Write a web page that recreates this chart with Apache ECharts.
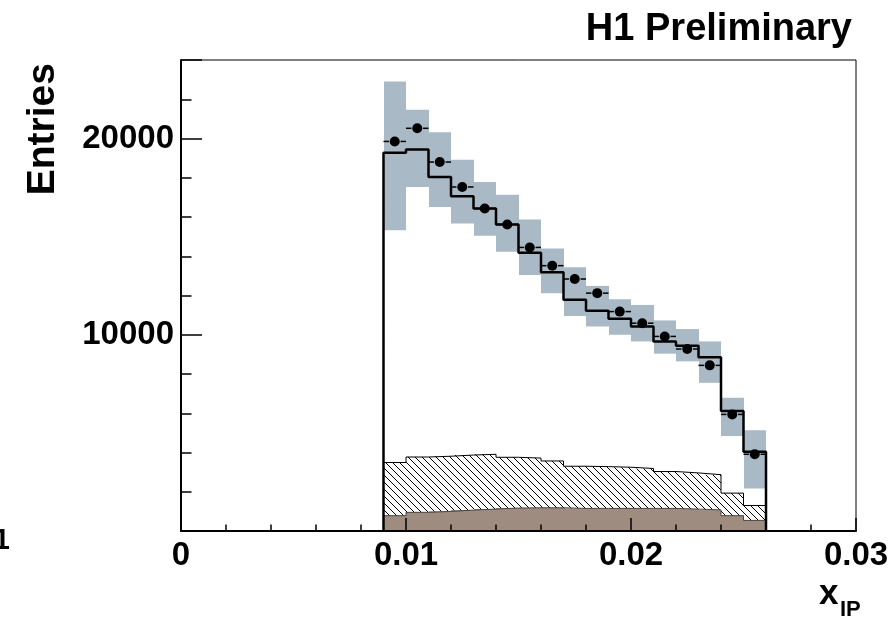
<!DOCTYPE html>
<html><head><meta charset="utf-8">
<script src="https://cdn.jsdelivr.net/npm/echarts@6/dist/echarts.min.js"></script>
<style>html,body{margin:0;padding:0;background:#fff}#c{width:895px;height:619px}</style>
</head><body><div id="c"></div>
<script>
// ---- data ----
const binEdges = [0.009,0.010,0.011,0.012,0.013,0.014,0.015,0.016,0.017,0.018,0.019,0.020,0.021,0.022,0.023,0.024,0.025,0.026];
const dataValues = [19850,20520,18800,17530,16430,15620,14450,13520,12840,12120,11180,10590,9915,9274,8440,5940,3910];
const mcTotal   = [19270,19440,18040,17060,16430,15620,14180,13180,11780,11220,10810,10420,9660,9440,8850,6110,4040];
const bandHigh  = [22900,21460,20320,18920,17780,17140,15870,14400,13440,12490,11810,11520,10730,10290,9660,6790,5140];
const bandLow   = [15330,17530,16510,15670,15040,14230,13050,12120,10960,10420,10000,9660,9035,8645,7550,4840,2170];
const hatchTop  = [3490,3770,3810,3870,3910,3756,3715,3570,3300,3280,3250,3185,3030,2960,2870,1930,1300];
const brownTop  = [780,950,1000,1065,1117,1168,1183,1183,1152,1152,1152,1152,1150,1117,1075,780,540];
const xTicks = [0,0.01,0.02,0.03];
const yTickLabels = [10000,20000];

const FONT = '"Liberation Sans", Arial, Helvetica, sans-serif';
const BAND = '#a9bac6';
const BROWN = '#9d8c7f';

function hatchCanvas(){
  const s = 7, c = document.createElement('canvas');
  c.width = s; c.height = s;
  const g = c.getContext('2d');
  g.strokeStyle = '#000'; g.lineWidth = 1;
  g.beginPath();
  g.moveTo(-1,-1); g.lineTo(s+1,s+1);
  g.moveTo(-1,s-1); g.lineTo(1,s+1);
  g.moveTo(s-1,-1); g.lineTo(s+1,1);
  g.stroke();
  return c;
}
const hatchFill = {image: hatchCanvas(), repeat: 'repeat'};

function rects(lo, hi){
  return hi.map((h,i)=>[binEdges[i], binEdges[i+1], Array.isArray(lo)?lo[i]:lo, h]);
}
function stepPts(vals){
  const p = [[binEdges[0],0]];
  vals.forEach((v,i)=>{ p.push([binEdges[i],v]); p.push([binEdges[i+1],v]); });
  p.push([binEdges[vals.length],0]);
  return p;
}
function rectSeries(data, fill, z){
  return {
    type:'custom', z:z, silent:true,
    encode:{x:[0,1], y:[2,3]},
    data:data,
    renderItem:function(params, api){
      const a = api.coord([api.value(0), api.value(3)]);
      const b = api.coord([api.value(1), api.value(2)]);
      const xa = Math.round(a[0]), xb = Math.round(b[0]);
      return {type:'rect', shape:{x:xa, y:a[1], width:xb-xa, height:b[1]-a[1]}, style:{fill:fill, stroke:null}};
    }
  };
}
const pointData = dataValues.map((v,i)=>[binEdges[i], binEdges[i+1], v]);

const chart = echarts.init(document.getElementById('c'), null, {renderer:'canvas'});
chart.setOption({
  animation:false,
  backgroundColor:'#fff',
  grid:{left:181, right:39, top:60, bottom:88, show:true, borderColor:'#000', borderWidth:1, backgroundColor:'transparent'},
  xAxis:{
    type:'value', min:0, max:0.03, interval:0.01, z:10,
    axisLine:{show:true, onZero:false, lineStyle:{color:'#000', width:2}},
    axisTick:{show:true, inside:true, length:13, lineStyle:{color:'#000', width:1.5}},
    minorTick:{show:true, splitNumber:5, length:6.5, lineStyle:{color:'#000', width:1.5}},
    axisLabel:{margin:8, color:'#000', fontSize:33, fontWeight:'bold', fontFamily:FONT,
      formatter:function(v){ const t = xTicks.find(x=>Math.abs(x-v)<1e-9); return t===undefined?'':(t===0?'0':t.toFixed(2)); }},
    splitLine:{show:false}, minorSplitLine:{show:false}
  },
  yAxis:[{
    type:'value', min:0, max:24000, interval:10000, z:10, position:'left',
    axisLine:{show:true, onZero:false, lineStyle:{color:'#000', width:2}},
    axisTick:{show:true, inside:true, length:21, lineStyle:{color:'#000', width:1.5}},
    axisLabel:{margin:7, color:'#000', fontSize:33, fontWeight:'bold', fontFamily:FONT, padding:[5,0,0,0],
      formatter:function(v){ return yTickLabels.indexOf(v)>=0 ? String(v) : ''; }},
    splitLine:{show:false}
  },{
    type:'value', min:0, max:24000, interval:2000, z:10, position:'left',
    axisLine:{show:false},
    axisTick:{show:true, inside:true, length:10.5, lineStyle:{color:'#000', width:1.5}},
    axisLabel:{show:false}, splitLine:{show:false}
  }],
  series:[
    rectSeries(rects(bandLow, bandHigh), BAND, 1),
    rectSeries(rects(0, hatchTop), hatchFill, 2),
    rectSeries(rects(0, brownTop), BROWN, 3),
    {type:'line', z:4, data:stepPts(hatchTop), symbol:'none', silent:true, lineStyle:{color:'#000', width:1}},
    {type:'line', z:4, data:stepPts(brownTop), symbol:'none', silent:true, lineStyle:{color:'#4a4440', width:1}},
    {type:'line', z:5, data:stepPts(mcTotal), symbol:'none', silent:true, lineStyle:{color:'#000', width:2.5}},
    {type:'custom', z:6, silent:true, encode:{x:[0,1], y:2}, data:pointData,
      renderItem:function(params, api){
        const x0 = api.value(0), x1 = api.value(1), v = api.value(2);
        const a = api.coord([x0, v]), b = api.coord([x1, v]);
        const cx = (a[0]+b[0])/2, cy = a[1];
        return {type:'group', children:[
          {type:'line', shape:{x1:a[0], y1:cy, x2:cx-5.8, y2:cy}, style:{stroke:'#000', lineWidth:1.5}},
          {type:'line', shape:{x1:cx+5.8, y1:cy, x2:b[0], y2:cy}, style:{stroke:'#000', lineWidth:1.5}},
          {type:'circle', shape:{cx:cx, cy:cy, r:5}, style:{fill:'#000'}}
        ]};
      }}
  ],
  graphic:[
    {type:'text', x:852, y:30, style:{text:'H1 Preliminary', font:'bold 38px '+FONT, fill:'#000', align:'right', verticalAlign:'middle', textAlign:'right', textVerticalAlign:'middle'}},
    {type:'text', x:43, y:63, rotation:Math.PI/2, style:{text:'Entries', font:'bold 39px '+FONT, fill:'#000', align:'right', verticalAlign:'middle', textAlign:'right', textVerticalAlign:'middle'}},
    {type:'text', x:10, y:541, style:{text:'1', font:'bold 29px '+FONT, fill:'#000', align:'right', verticalAlign:'middle', textAlign:'right', textVerticalAlign:'middle'}},
    {type:'text', x:819, y:594, style:{text:'x', font:'bold 35px '+FONT, fill:'#000', align:'left', verticalAlign:'middle', textAlign:'left', textVerticalAlign:'middle'}},
    {type:'text', x:840, y:610, style:{text:'IP', font:'bold 22px '+FONT, fill:'#000', align:'left', verticalAlign:'middle', textAlign:'left', textVerticalAlign:'middle'}}
  ]
});
</script>
</body></html>
